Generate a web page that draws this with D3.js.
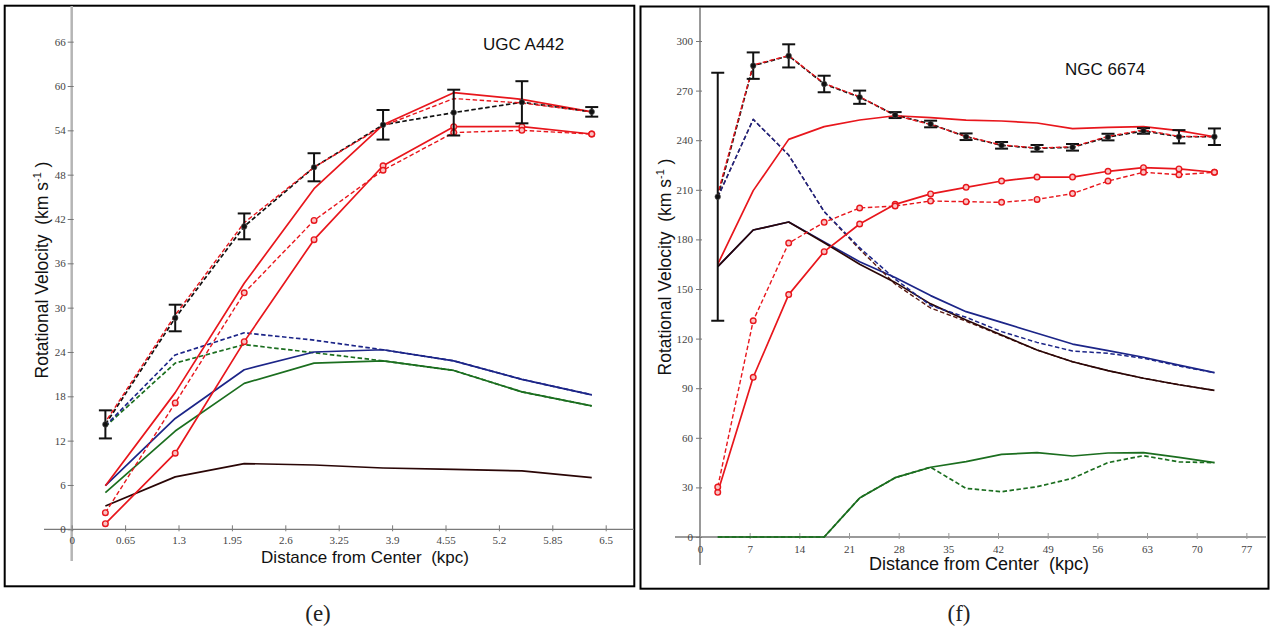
<!DOCTYPE html>
<html>
<head>
<meta charset="utf-8">
<script src="https://cdn.jsdelivr.net/npm/d3@7/dist/d3.min.js"></script>
<style>
  body { margin: 0; background: #fff; }
  svg { display: block; }
</style>
</head>
<body>
<svg id="chart" width="1270" height="633"></svg>
<script>
// ---------- UGC A442 (panel e) ----------
const ugcRadius        = [0.41, 1.26, 2.10, 2.95, 3.79, 4.65, 5.48, 6.33];
const ugcObserved      = [14.2, 28.6, 41.0, 49.0, 54.75, 56.4, 57.8, 56.5];
const ugcObservedErr   = [1.9, 1.8, 1.75, 1.9, 2.0, 3.1, 2.85, 0.65];
const ugcTotalDashed   = [14.5, 29.0, 41.5, 49.0, 54.6, 58.3, 57.7, 56.5];
const ugcTotalSolid    = [5.9, 18.5, 33.3, 46.1, 54.75, 59.1, 58.2, 56.5];
const ugcHaloDashed    = [2.25, 17.1, 32.0, 41.8, 48.6, 53.7, 54.0, 53.5];
const ugcHaloSolid     = [0.76, 10.3, 25.4, 39.2, 49.2, 54.5, 54.5, 53.5];
const ugcStarsDashed   = [14.0, 23.6, 26.6, 25.6, 24.3, 22.8, 20.3, 18.2];
const ugcStarsSolid    = [5.9, 15.0, 21.6, 24.0, 24.3, 22.8, 20.3, 18.2];
const ugcGasDashed     = [13.9, 22.5, 25.0, 23.9, 22.8, 21.5, 18.6, 16.7];
const ugcGasSolid      = [4.95, 13.3, 19.75, 22.5, 22.8, 21.5, 18.6, 16.7];
const ugcBulge         = [3.15, 7.1, 8.9, 8.7, 8.3, 8.1, 7.9, 7.0];
const ugcXTicks        = [0, 0.65, 1.3, 1.95, 2.6, 3.25, 3.9, 4.55, 5.2, 5.85, 6.5];
const ugcYTicks        = [0, 6, 12, 18, 24, 30, 36, 42, 48, 54, 60, 66];

// ---------- NGC 6674 (panel f) ----------
const ngcRadius        = [2.5, 7.5, 12.5, 17.5, 22.5, 27.5, 32.5, 37.5, 42.5, 47.5, 52.5, 57.5, 62.5, 67.5, 72.5];
const ngcObserved      = [205.8, 285.1, 291.0, 274.0, 266.0, 255.2, 249.8, 242.1, 236.9, 235.1, 235.7, 241.9, 245.6, 242.1, 242.1];
const ngcObservedErr   = [75, 8, 7, 5, 4, 1.8, 2, 2, 2, 2, 2, 2, 1.7, 4, 5];
const ngcTotalDashed   = [207.5, 285.5, 291.2, 274.3, 266.3, 255.0, 249.5, 242.3, 237.1, 235.3, 236.0, 242.3, 246.2, 242.3, 242.1];
const ngcTotalSolid    = [165.0, 209.5, 240.5, 248.2, 252.2, 254.8, 253.6, 252.2, 251.6, 250.4, 247.0, 247.8, 248.2, 245.8, 242.1];
const ngcHaloDashed    = [30.2, 130.8, 177.8, 190.3, 199.0, 200.2, 203.2, 202.8, 202.4, 204.2, 207.7, 215.3, 220.6, 219.1, 220.6];
const ngcHaloSolid     = [27.0, 96.6, 146.6, 172.6, 189.3, 201.2, 207.5, 211.5, 215.3, 217.7, 217.7, 221.2, 223.4, 222.6, 220.6];
const ngcStarsDashed   = [205.5, 252.6, 231.0, 196.8, 175.0, 156.0, 140.0, 132.9, 124.2, 117.7, 112.5, 111.1, 108.1, 103.4, 99.4];
const ngcStarsSolid    = [163.5, 185.7, 190.5, 178.5, 166.5, 157.0, 146.0, 136.3, 129.8, 123.2, 116.7, 112.7, 108.7, 104.0, 99.4];
const ngcBulgeDashed   = [205.5, 252.6, 231.0, 196.8, 174.0, 153.0, 138.5, 130.5, 121.8, 113.1, 106.0, 100.6, 96.0, 92.1, 88.7];
const ngcBulge         = [163.5, 185.7, 190.5, 178.0, 165.0, 154.0, 141.0, 131.2, 122.2, 113.1, 106.0, 100.6, 96.0, 92.1, 88.7];
const ngcGasSolid      = [0, 0, 0, 0, 23.6, 35.9, 42.2, 45.6, 50.0, 51.0, 49.0, 50.8, 51.0, 48.2, 45.0];
const ngcGasDashed     = [0, 0, 0, 0, 23.6, 35.9, 42.2, 29.4, 27.4, 30.4, 35.5, 45.0, 49.2, 45.4, 45.0];
const ngcXTicks        = [0, 7, 14, 21, 28, 35, 42, 49, 56, 63, 70, 77];
const ngcYTicks        = [0, 30, 60, 90, 120, 150, 180, 210, 240, 270, 300];

// ---------- styling ----------
const RED = "#e8161c", BLUE = "#1c2588", GREEN = "#1b6e1f", BROWN = "#2a0606", BLACK = "#111";
const DASH = "4.5,2.5";
const TICK_FONT = "'Liberation Serif', 'DejaVu Serif', serif";
const LABEL_FONT = "'Liberation Sans', Arial, sans-serif";

const svg = d3.select("#chart");

function drawPanel(p) {
  const g = svg.append("g");

  // frame
  g.append("rect")
    .attr("x", p.frame[0]).attr("y", p.frame[1])
    .attr("width", p.frame[2] - p.frame[0]).attr("height", p.frame[3] - p.frame[1])
    .attr("fill", "none").attr("stroke", "#000").attr("stroke-width", 2);

  const x = d3.scaleLinear().domain(p.xDomain).range(p.xRange);
  const y = d3.scaleLinear().domain(p.yDomain).range(p.yRange);

  // axis lines, drawn past the plotting range
  g.append("line")
    .attr("x1", p.xAxisSpan[0]).attr("x2", p.xAxisSpan[1])
    .attr("y1", y(0)).attr("y2", y(0))
    .attr("stroke", p.xAxisColor).attr("stroke-width", p.xAxisWidth);
  g.append("line")
    .attr("x1", x(0)).attr("x2", x(0))
    .attr("y1", p.yAxisSpan[0]).attr("y2", p.yAxisSpan[1])
    .attr("stroke", p.yAxisColor).attr("stroke-width", p.yAxisWidth);

  // x axis ticks & labels
  const xAxis = d3.axisBottom(x)
    .tickValues(p.xTicks)
    .tickFormat(d => String(d))
    .tickSizeInner(4).tickSizeOuter(0).tickPadding(p.xTickPad);
  const gx = g.append("g").attr("transform", `translate(0,${y(0)})`).call(xAxis);
  gx.select(".domain").remove();
  gx.selectAll(".tick line").attr("y1", -4).attr("y2", 2)
    .attr("stroke", p.xAxisColor).attr("stroke-width", 1);
  gx.selectAll(".tick text")
    .attr("font-family", TICK_FONT).attr("font-size", p.tickFontSize).attr("fill", "#444");

  // y axis ticks & labels
  const yAxis = d3.axisLeft(y)
    .tickValues(p.yTicks)
    .tickFormat(d => String(d))
    .tickSizeInner(4).tickSizeOuter(0).tickPadding(p.yTickPad);
  const gy = g.append("g").attr("transform", `translate(${x(0)},0)`).call(yAxis);
  gy.select(".domain").remove();
  gy.selectAll(".tick line").attr("x1", -4).attr("x2", 2)
    .attr("stroke", "#777").attr("stroke-width", 1);
  gy.selectAll(".tick text")
    .attr("font-family", TICK_FONT).attr("font-size", p.tickFontSize).attr("fill", "#444");

  // axis titles
  g.append("text")
    .attr("x", p.xTitlePos[0]).attr("y", p.xTitlePos[1])
    .attr("text-anchor", "middle")
    .attr("font-family", LABEL_FONT).attr("font-size", p.xTitleSize).attr("fill", "#111")
    .style("white-space", "pre")
    .text("Distance from Center  (kpc)");

  const yt = g.append("text")
    .attr("transform", `translate(${p.yTitlePos[0]},${p.yTitlePos[1]}) rotate(-90)`)
    .attr("text-anchor", "middle")
    .attr("font-family", LABEL_FONT).attr("font-size", p.yTitleSize).attr("fill", "#111")
    .style("white-space", "pre");
  yt.append("tspan").text("Rotational Velocity  (km s");
  yt.append("tspan").attr("font-size", p.yTitleSize * 0.62).attr("dy", -p.yTitleSize * 0.38).text("-1");
  yt.append("tspan").attr("dy", p.yTitleSize * 0.38).text(" )");

  // galaxy name
  g.append("text")
    .attr("x", p.namePos[0]).attr("y", p.namePos[1])
    .attr("font-family", LABEL_FONT).attr("font-size", 17).attr("fill", "#111")
    .text(p.name);

  // caption below the frame
  g.append("text")
    .attr("x", p.captionPos[0]).attr("y", p.captionPos[1])
    .attr("text-anchor", "middle")
    .attr("font-family", TICK_FONT).attr("font-size", 23).attr("fill", "#222")
    .text(p.caption);

  // curves
  const line = d3.line().x(d => x(d[0])).y(d => y(d[1]));
  p.series.forEach(s => {
    const pts = p.radius.map((r, i) => [r, s.values[i]]);
    g.append("path")
      .attr("d", line(pts))
      .attr("fill", "none")
      .attr("stroke", s.color)
      .attr("stroke-width", s.width || 1.7)
      .attr("stroke-dasharray", s.dash ? DASH : null)
      .attr("stroke-dashoffset", s.offset || 0)
      .attr("stroke-linejoin", "round");
    if (s.markers) {
      g.selectAll(null).data(pts).enter().append("circle")
        .attr("cx", d => x(d[0])).attr("cy", d => y(d[1]))
        .attr("r", 2.8)
        .attr("fill", "#f9c4c4").attr("stroke", s.color).attr("stroke-width", 1.4);
    }
  });

  // observed velocities with error bars
  const obs = p.radius.map((r, i) => ({ r, v: p.observed[i], e: p.observedErr[i] }));
  const eb = g.selectAll(null).data(obs).enter().append("g");
  eb.append("line")
    .attr("x1", d => x(d.r)).attr("x2", d => x(d.r))
    .attr("y1", d => y(d.v - d.e)).attr("y2", d => y(d.v + d.e))
    .attr("stroke", BLACK).attr("stroke-width", 2);
  [-1, 1].forEach(sgn => {
    eb.append("line")
      .attr("x1", d => x(d.r) - p.cap).attr("x2", d => x(d.r) + p.cap)
      .attr("y1", d => y(d.v + sgn * d.e)).attr("y2", d => y(d.v + sgn * d.e))
      .attr("stroke", BLACK).attr("stroke-width", 2);
  });
  eb.append("circle")
    .attr("cx", d => x(d.r)).attr("cy", d => y(d.v))
    .attr("r", 2.8).attr("fill", BLACK).attr("stroke", "#555").attr("stroke-width", 0.6);
}

drawPanel({
  frame: [4.7, 5.7, 634.3, 586.3],
  xDomain: [0, 6.5], xRange: [71.7, 605.7],
  yDomain: [0, 60], yRange: [529.3, 86],
  xAxisSpan: [44, 634], yAxisSpan: [6, 561],
  xAxisColor: "#7a7a7a", xAxisWidth: 1.3,
  yAxisColor: "#b5b5b5", yAxisWidth: 2.5,
  xTicks: ugcXTicks, yTicks: ugcYTicks,
  xTickPad: 3, yTickPad: 2, tickFontSize: 11,
  xTitlePos: [365, 563], xTitleSize: 17,
  yTitlePos: [48, 270], yTitleSize: 17.5,
  name: "UGC A442", namePos: [483, 49.5],
  caption: "(e)", captionPos: [318, 621],
  cap: 6.5,
  radius: ugcRadius,
  observed: ugcObserved, observedErr: ugcObservedErr,
  series: [
    { values: ugcBulge, color: BROWN },
    { values: ugcGasSolid, color: GREEN },
    { values: ugcGasDashed, color: GREEN, dash: true },
    { values: ugcStarsSolid, color: BLUE },
    { values: ugcStarsDashed, color: BLUE, dash: true },
    { values: ugcHaloSolid, color: RED, markers: true },
    { values: ugcHaloDashed, color: RED, dash: true, width: 1.4, markers: true },
    { values: ugcTotalSolid, color: RED },
    { values: ugcObserved, color: BLACK, dash: true },
    { values: ugcTotalDashed, color: RED, dash: true, width: 1.4, offset: 3.5 }
  ]
});

drawPanel({
  frame: [640.5, 6.5, 1268.5, 588.7],
  xDomain: [0, 70], xRange: [700, 1196.7],
  yDomain: [0, 300], yRange: [537, 41],
  xAxisSpan: [675, 1266], yAxisSpan: [7, 565],
  xAxisColor: "#9a9a9a", xAxisWidth: 2,
  yAxisColor: "#555", yAxisWidth: 1.2,
  xTicks: ngcXTicks, yTicks: ngcYTicks,
  xTickPad: 4, yTickPad: 3, tickFontSize: 11,
  xTitlePos: [979, 570], xTitleSize: 18,
  yTitlePos: [671, 267], yTitleSize: 17.5,
  name: "NGC 6674", namePos: [1065, 75],
  caption: "(f)", captionPos: [959, 621],
  cap: 6.5,
  radius: ngcRadius,
  observed: ngcObserved, observedErr: ngcObservedErr,
  series: [
    { values: ngcGasSolid, color: GREEN },
    { values: ngcGasDashed, color: GREEN, dash: true },
    { values: ngcStarsSolid, color: BLUE },
    { values: ngcBulgeDashed, color: "#5a1a12", dash: true, width: 1.4 },
    { values: ngcBulge, color: BROWN },
    { values: ngcStarsDashed, color: BLUE, dash: true, width: 1.5 },
    { values: ngcHaloSolid, color: RED, markers: true },
    { values: ngcHaloDashed, color: RED, dash: true, width: 1.4, markers: true },
    { values: ngcTotalSolid, color: RED },
    { values: ngcObserved, color: BLACK, dash: true },
    { values: ngcTotalDashed, color: RED, dash: true, width: 1.4, offset: 3.5 }
  ]
});
</script>
</body>
</html>
